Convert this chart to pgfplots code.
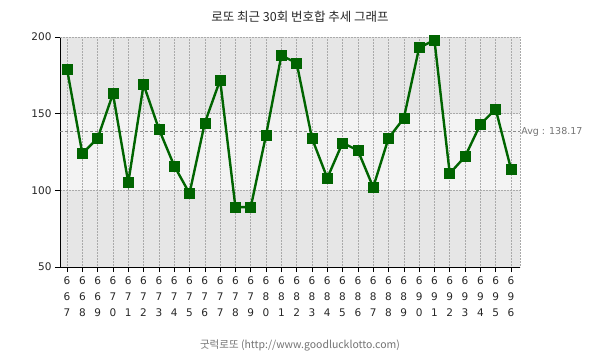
\documentclass[border=0pt]{standalone}
\usepackage{fontspec}
\setmainfont{DejaVu Sans}
\newfontfamily\kr{Noto Sans CJK KR}
\usepackage{pgfplots}
\pgfplotsset{compat=1.18}
\definecolor{banddark}{RGB}{230,230,230}
\definecolor{bandlight}{RGB}{243,243,243}
\definecolor{gridc}{RGB}{170,170,170}
\definecolor{lgreen}{RGB}{0,100,0}
\begin{document}
\begin{tikzpicture}
\path[use as bounding box] (-60bp,-92bp) rectangle (545bp,267bp);
\fill[banddark] (0,0) rectangle (460bp,230bp);
\fill[bandlight] (0,76.667bp) rectangle (460bp,153.333bp);
\begin{axis}[
  at={(0,0)}, anchor=south west,
  scale only axis, width=460bp, height=230bp,
  xmin=666.54, xmax=696.59, ymin=50, ymax=200,
  axis x line=bottom, axis y line=left,
  axis line style={-, black, line width=0.8bp},
  xtick={667,...,696},
  xticklabels={{6\\6\\7},{6\\6\\8},{6\\6\\9},{6\\7\\0},{6\\7\\1},{6\\7\\2},{6\\7\\3},{6\\7\\4},{6\\7\\5},{6\\7\\6},{6\\7\\7},{6\\7\\8},{6\\7\\9},{6\\8\\0},{6\\8\\1},{6\\8\\2},{6\\8\\3},{6\\8\\4},{6\\8\\5},{6\\8\\6},{6\\8\\7},{6\\8\\8},{6\\8\\9},{6\\9\\0},{6\\9\\1},{6\\9\\2},{6\\9\\3},{6\\9\\4},{6\\9\\5},{6\\9\\6}},
  xticklabel style={align=center, font=\fontsize{10.5bp}{16bp}\selectfont, text=black!85, yshift=-1bp},
  ytick={50,100,150,200},
  yticklabel style={font=\fontsize{10.5bp}{12bp}\selectfont, text=black!85},
  /pgf/number format/assume math mode=true,
  tick align=outside, major tick length=5bp,
  tick style={black, line width=0.6bp},
  xmajorgrids, ymajorgrids,
  grid style={dash pattern=on 0.5bp off 1bp, gridc, line width=0.5bp},
  clip=false,
]
\draw[dash pattern=on 0.5bp off 1bp, gridc, line width=0.5bp] (axis cs:666.54,200) -- (axis cs:696.59,200) -- (axis cs:696.59,50);
\draw[densely dashed, black!45, line width=0.7bp] (axis cs:666.54,138.17) -- (axis cs:696.59,138.17)
  node[right, inner sep=1bp, text=black!55, font=\fontsize{9.5bp}{11bp}\selectfont] {Avg : 138.17};
\addplot[lgreen, line width=2.4bp, mark=square*, mark size=5bp, mark options={fill=lgreen, draw=lgreen, line width=0.5bp}]
coordinates {
(667,179)(668,124)(669,134)(670,163)(671,105)(672,169)(673,140)(674,116)(675,98)(676,144)
(677,172)(678,89)(679,89)(680,136)(681,188)(682,183)(683,134)(684,108)(685,131)(686,126)
(687,102)(688,134)(689,147)(690,193)(691,198)(692,111)(693,122)(694,143)(695,153)(696,114)
};
\end{axis}
\node[font=\kr\fontsize{12.5bp}{14bp}\selectfont, text=black!85] at (240bp,250bp) {로또 최근 30회 번호합 추세 그래프};
\node[font=\kr\fontsize{10.5bp}{12bp}\selectfont, text=black!55] at (240bp,-78bp) {굿럭로또 (http://www.goodlucklotto.com)};
\end{tikzpicture}
\end{document}
